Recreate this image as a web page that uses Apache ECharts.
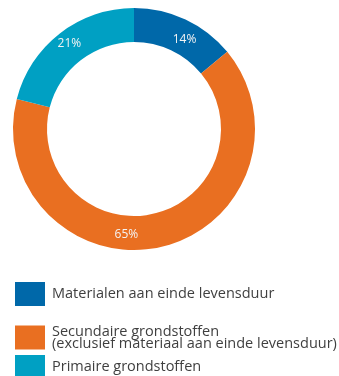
<!DOCTYPE html>
<html>
<head>
<meta charset="utf-8">
<script src="https://cdn.jsdelivr.net/npm/echarts@6/dist/echarts.min.js"></script>
<style>
  html, body { margin: 0; padding: 0; background: #fff; }
  #chart { width: 339px; height: 376px; }
</style>
</head>
<body>
<div id="chart"></div>
<script>
// Herkomst van grondstoffen (aandeel in %)
const categories = [
  'Materialen aan einde levensduur',
  'Secundaire grondstoffen\n(exclusief materiaal aan einde levensduur)',
  'Primaire grondstoffen'
];
const values = [14, 65, 21];
const colors = ['#0068a9', '#e96f21', '#00a0c3'];

const chart = echarts.init(document.getElementById('chart'), null, { renderer: 'canvas' });

const FONT = '"Open Sans", "Noto Sans", sans-serif';

// Per-slice label nudges so the percentages sit where they read best in the ring
const labelOffsets = [[5, 7], [-31, 1], [1, -1]];

const pieData = categories.map((name, i) => ({
  name: name,
  value: values[i],
  itemStyle: { color: colors[i] },
  label: { offset: labelOffsets[i] }
}));

// One legend block per category so each row can be placed on its own line
const legendTops = [282, 320, 355];
const legendTextPadding = [[0, 0, 0, 2], [11, 0, 0, 2], [0, 0, 11, 2]];
const legends = categories.map((name, i) => ({
  orient: 'vertical',
  left: 15,
  top: legendTops[i],
  data: [name],
  icon: 'rect',
  itemWidth: 30,
  itemHeight: 24,
  selectedMode: false,
  padding: 0,
  textStyle: {
    color: '#3f3f3f',
    fontFamily: FONT,
    fontSize: 14.5,
    lineHeight: 12,
    padding: legendTextPadding[i]
  }
}));

chart.setOption({
  animation: false,
  color: colors,
  legend: legends,
  series: [{
    type: 'pie',
    center: [134, 129],
    radius: [87, 121],
    startAngle: 90,
    clockwise: true,
    avoidLabelOverlap: false,
    label: {
      show: true,
      position: 'inside',
      formatter: p => p.value + '%',
      color: '#f4f4f4',
      fontFamily: FONT,
      fontSize: 12
    },
    labelLine: { show: false },
    itemStyle: { borderWidth: 0 },
    emphasis: { disabled: true },
    data: pieData
  }]
});
</script>
</body>
</html>
